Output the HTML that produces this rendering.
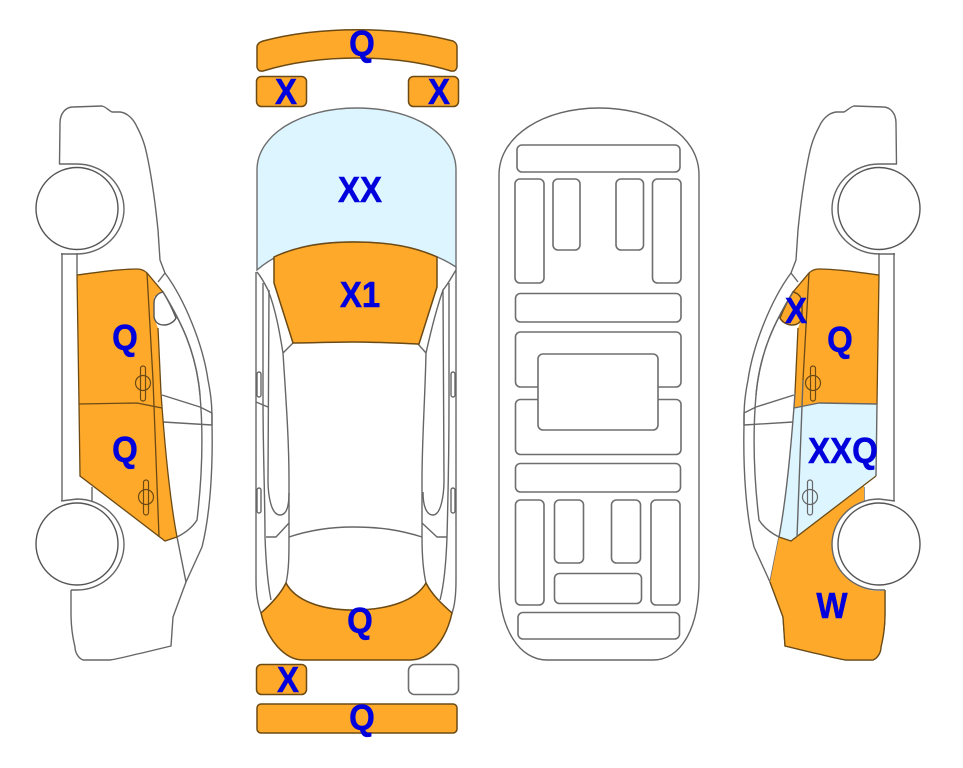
<!DOCTYPE html>
<html>
<head>
<meta charset="utf-8">
<style>
html,body{margin:0;padding:0;background:#fff;}
svg{display:block;}
text{font-family:"Liberation Sans",sans-serif;font-weight:bold;font-size:33px;fill:#0000dd;stroke:#0000dd;stroke-width:.5;text-anchor:middle;}
.l{fill:none;stroke:#666;stroke-width:1.4;stroke-linejoin:round;}
.w{fill:#fff;stroke:#555;stroke-width:1.4;}
.r{fill:#fff;stroke:#6e6e6e;stroke-width:1.6;}
.o{fill:#ffa92b;stroke:#6b4a14;stroke-width:1.5;}
.b{fill:#ddf5ff;stroke:#6e6e6e;stroke-width:1.4;}
.d{fill:none;stroke:#6b4a14;stroke-width:1.3;}
.dn{fill:#ffa92b;stroke:none;}
.bn{fill:#ddf5ff;stroke:none;}
</style>
</head>
<body>
<svg width="963" height="768" viewBox="0 0 963 768" xmlns="http://www.w3.org/2000/svg">
<defs>
<g id="sideBody">
  <path class="l" d="M59.5,164 L60,123 C60,113 66,107 73,107 L102,106 C106,107 108,110 112,112 L120,112 C128,113 134,120 137,127 C144,140 146,150 148,160 C153,185 156,210 158,230 L160,260 L165,273 C185,300 203,345 208,380 C212,400 212,410 212,425 C213,470 210,515 202,547 L186,582 L173,617 L171,646 L142,653 C128,656 118,659 110,660 L83,660 C78,658 75,652 75,647 C72,635 71,625 71,613 L71,590"/>
  <path class="l" d="M62,253 L62,501"/>
  <path class="l" d="M77,253 L77,275"/>
  <path class="l" d="M92,487 L92,501"/>
  <path class="l" d="M165,273 L158,282"/>
  <path class="l" d="M163,292 C180,320 196,350 200,395 C203,430 203,470 197,520 C192,528 185,533 177,537"/>
  <path class="l" d="M162,395 L200,407 L212,413 L212,425 L163,422"/>
  <path class="l" d="M177,537 L186,582"/>
</g>
<g id="wheels">
  <path class="l" d="M59,164 L77,164 A47,45 0 0 1 77,254 L61,254"/>
  <path class="l" d="M61,501 L77,499 A47,45.500 0 0 1 77,590 L71,590"/>
  <circle class="w" cx="77" cy="208.500" r="41"/>
  <circle class="w" cx="77" cy="544" r="41"/>
</g>
<g id="handle">
  <ellipse cx="0" cy="0" rx="7.500" ry="7.500" fill="none" stroke="#6b4a14" stroke-width="1.2"/>
  <rect x="-2.500" y="-17" width="5" height="35" rx="2.500" fill="none" stroke="#6b4a14" stroke-width="1.2"/>
</g>
</defs>

<!-- Left side view -->
<use href="#sideBody"/>
<path class="dn" d="M77,275 C100,272 120,269 137,269 Q143,269 147,273 L163,292 L154,297 L154,318 L158,328 L161,393 L162,408 L79,404 Z"/>
<path class="dn" d="M79,404 L137,403 L162,408 C165,450 170,500 177,537 L165,541 L80,476 Z"/>
<path class="d" d="M77,275 C100,272 120,269 137,269 Q143,269 147,273 L163,292"/>
<path class="d" d="M77,275 L79,404 L80,476 L165,541 L177,537"/>
<path class="d" d="M158,328 L161,393 C165,450 170,500 177,537"/>
<path class="d" d="M147,273 L153,380 L159,537"/>
<path class="d" d="M79,404 L137,403 L162,408"/>
<path fill="#fff" stroke="#555" stroke-width="1.400" d="M163,292 C158,293 154,297 154,303 L154,317 C155,322 158,325 164,325 C169,325 174,322 176,318 C172,308 168,300 163,292 Z"/>
<path class="l" d="M163,292 C180,320 196,350 200,395"/>
<use href="#handle" transform="translate(143,383)"/>
<use href="#handle" transform="translate(146,497)"/>
<use href="#wheels"/>

<!-- Right side view (mirrored) -->
<g transform="translate(956,0) scale(-1,1)">
  <use href="#sideBody"/>
  <path class="dn" d="M165,541 L92,486 L92,500.500 A46.500,46.500 0 0 1 71,590.600 L71,613 C71,625 72,635 75,647 C75,652 78,658 83,660 L110,660 C118,659 128,656 142,653 L171,646 L173,617 L186,582 L177,537 Z"/>
  <path class="d" d="M71,590 L71,613 C71,625 72,635 75,647 C75,652 78,658 83,660 L110,660 C118,659 128,656 142,653 L171,646 L173,617 L186,582"/>
  <path class="dn" d="M77,275 C100,272 120,269 137,269 Q143,269 147,273 L163,292 L154,297 L154,318 L158,328 L161,393 L162,408 L79,404 Z"/>
  <path class="bn" d="M79,404 L137,403 L162,408 C165,450 170,500 177,537 L165,541 L80,476 Z"/>
  <path class="d" d="M77,275 C100,272 120,269 137,269 Q143,269 147,273 L163,292"/>
  <path class="d" d="M77,275 L79,404"/>
  <path class="l" d="M79,404 L80,476"/>
  <path class="d" d="M80,476 L165,541 L177,537"/>
  <path class="d" d="M158,328 L161,393"/>
  <path class="l" d="M161,393 C165,450 170,500 177,537"/>
  <path class="d" d="M147,273 L153,380"/>
  <path class="l" d="M153,380 L159,537"/>
  <path class="l" d="M79,404 L137,403 L162,408"/>
  <path class="o" stroke-width="1.300" d="M163,292 C158,293 154,297 154,303 L154,317 C155,322 158,325 164,325 C169,325 174,322 176,318 C172,308 168,300 163,292 Z"/>
  <path class="l" d="M163,292 C180,320 196,350 200,395"/>
  <use href="#handle" transform="translate(143,383)"/>
  <g transform="translate(146,497)">
    <ellipse cx="0" cy="0" rx="7.500" ry="7.500" fill="none" stroke="#666" stroke-width="1.200"/>
    <rect x="-2.500" y="-17" width="5" height="35" rx="2.500" fill="none" stroke="#666" stroke-width="1.200"/>
  </g>
  <use href="#wheels"/>
</g>

<!-- Top view -->
<path class="o" d="M263,41 C320,26 395,26 453,41 Q457,43 457,47 L457,67 Q456,72 451,71 C395,53.700 320,53.700 263,71 Q258,72 257,67 L257,47 Q257,43 263,41 Z"/>
<rect class="o" x="256.500" y="76.500" width="50" height="30" rx="5"/>
<rect class="o" x="408.500" y="76.500" width="50" height="30" rx="5"/>

<path class="l" stroke-width="1.800" d="M256,272 L256,580 C256,595 258,605 261,613"/>
<path class="l" stroke-width="1.800" d="M456,267 L456,580 C456,595 455,605 452,613"/>
<path class="l" d="M257,272 C262,278 265,284 268,290 C276,310 280,335 283,353 C286,400 289,440 289,480 L289,537 C289,555 289,570 286,583"/>
<path class="l" d="M456,270 C451,278 448,284 443,290 C436,310 430,335 426,353 C425,400 422,440 422,480 L422,537 C422,555 423,570 426,583"/>
<path class="l" d="M269,290 L268,480 C268,495 271,515 280,515 C287,515 289,505 289,493"/>
<path class="l" d="M443,290 L444,480 C444,495 441,515 433,515 C426,515 423,505 423,492"/>
<path class="l" d="M263,283 L263,400 C263,450 265,500 265,537 C266,565 268,585 271,600"/>
<path class="l" d="M449,283 L449,400 C449,450 448,500 447,537 C446,565 444,585 440,600"/>
<path class="l" d="M283,353 L293,343"/>
<path class="l" d="M426,353 L418,344"/>
<path class="l" d="M266,537 L276,537 L289,523"/>
<path class="l" d="M447,537 L437,537 L422,523"/>
<path class="l" d="M289,537 C310,530 330,527 353,527 C380,527 400,530 422,537"/>
<path class="l" d="M256,402 L268,407"/>
<rect class="l" x="257" y="372" width="4" height="25" rx="2"/>
<rect class="l" x="451" y="372" width="4" height="25" rx="2"/>
<rect class="l" x="257" y="488" width="4" height="25" rx="2"/>
<rect class="l" x="451" y="488" width="4" height="25" rx="2"/>

<path class="b" stroke-width="1.800" d="M257,270 L257,170 C257,135 300,108 357,108 C415,108 456,135 456,170 L456,267 C430,250 395,242 353,242 C310,242 280,250 257,270 Z"/>
<path class="o" stroke-width="1.200" d="M274,257 C295,247 320,242 353,242 C390,242 415,247 437,257 L437,287 L419,344 C395,343 375,342 353,342 C330,342 312,343 293,343 L274,283 Z"/>
<path class="o" d="M286,583 C295,600 320,610 353,610 C390,610 416,600 426,583 C432,595 443,605 452,613 C446,640 430,660 410,660 L303,660 C285,660 267,640 261,613 C270,605 280,595 286,583 Z"/>
<rect class="o" x="256.500" y="664.500" width="50" height="30" rx="5"/>
<rect class="r" x="408.500" y="664.500" width="50" height="30" rx="6"/>
<rect class="o" x="257" y="704" width="200" height="29" rx="4"/>

<!-- Underbody view -->
<path class="l" stroke-width="1.600" d="M499,175 C499,135 545,108 599,108 C655,108 699,135 699,175 L699,580 C699,630 680,660 653,660 L547,660 C520,660 499,630 499,580 Z"/>
<rect class="r" x="517" y="145" width="163" height="27" rx="5"/>
<rect class="r" x="515" y="179" width="29" height="104" rx="5"/>
<rect class="r" x="553" y="179" width="27" height="71" rx="5"/>
<rect class="r" x="616" y="179" width="27.500" height="71" rx="5"/>
<rect class="r" x="652.500" y="179" width="28.500" height="104" rx="5"/>
<rect class="r" x="515.500" y="293.500" width="165.500" height="28.500" rx="5"/>
<rect class="r" x="515.500" y="332" width="165.500" height="55" rx="5"/>
<rect class="r" x="515.500" y="399.500" width="165.500" height="55" rx="5"/>
<rect class="r" x="538" y="354" width="120" height="76" rx="5"/>
<rect class="r" x="515.500" y="463.500" width="165" height="28.500" rx="5"/>
<rect class="r" x="515.500" y="500" width="28.500" height="105" rx="5"/>
<rect class="r" x="554.500" y="500" width="29" height="63" rx="5"/>
<rect class="r" x="611.500" y="500" width="29" height="63" rx="5"/>
<rect class="r" x="651" y="500" width="29" height="105" rx="5"/>
<rect class="r" x="554.500" y="573.500" width="87" height="30" rx="5"/>
<rect class="r" x="518" y="612.500" width="161.500" height="26.500" rx="5"/>

<!-- Labels -->
<text transform="translate(362,56) scale(1,1.100)">Q</text>
<text transform="translate(286,104) scale(1,1.100)">X</text>
<text transform="translate(439,104) scale(1,1.100)">X</text>
<text transform="translate(360,202) scale(1,1.100)">XX</text>
<text transform="translate(360,307) scale(1,1.100)">X1</text>
<text transform="translate(360,633) scale(1,1.100)">Q</text>
<text transform="translate(288,692) scale(1,1.100)">X</text>
<text transform="translate(362,730) scale(1,1.100)">Q</text>
<text transform="translate(125,350) scale(1,1.100)">Q</text>
<text transform="translate(125,462) scale(1,1.100)">Q</text>
<text transform="translate(796,323) scale(1,1.100)">X</text>
<text transform="translate(840,352) scale(1,1.100)">Q</text>
<text transform="translate(843,463) scale(1,1.100)">XXQ</text>
<text transform="translate(832,618) scale(1,1.100)">W</text>
</svg>
</body>
</html>
